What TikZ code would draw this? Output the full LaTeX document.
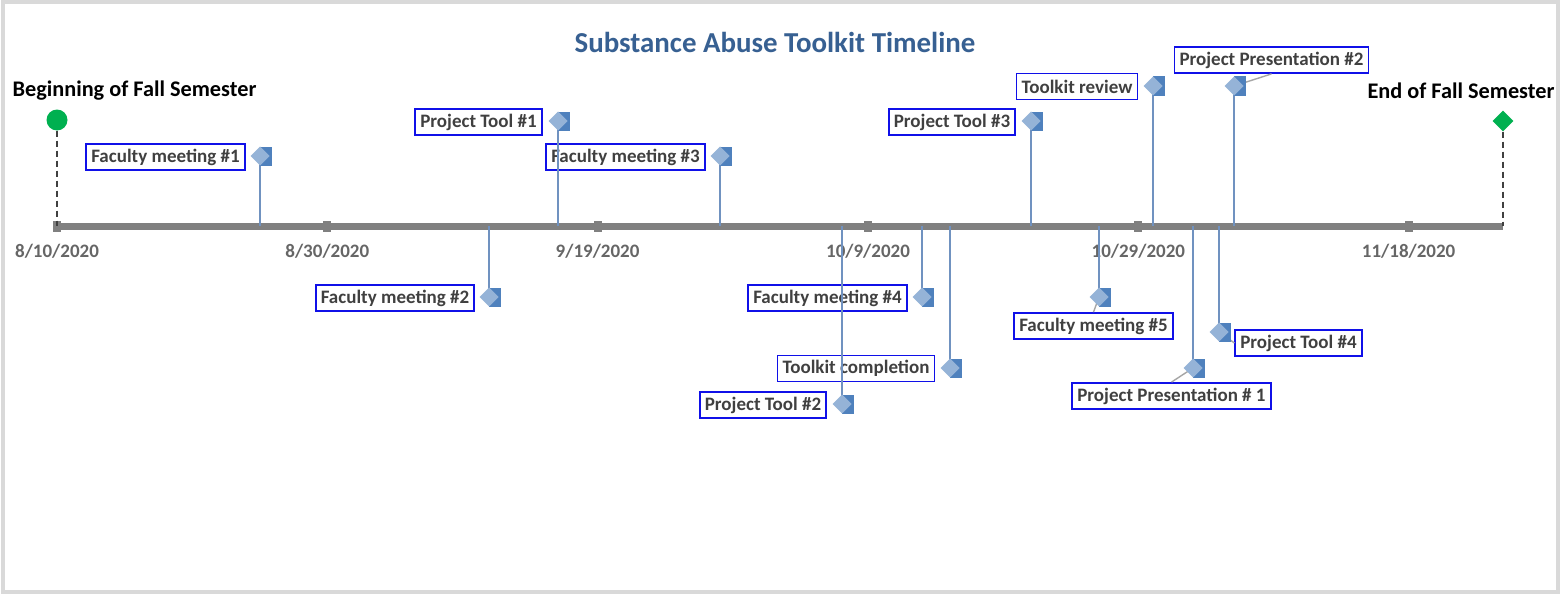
\documentclass[tikz,border=0pt]{standalone}
\usepackage{fontspec}
\setmainfont{Carlito}
\usetikzlibrary{calc,shapes.geometric}
\definecolor{lightb}{HTML}{95B3D7}
\definecolor{darkb}{HTML}{4F81BD}
\definecolor{stemc}{HTML}{7092C0}
\definecolor{boxb}{HTML}{1010E8}
\definecolor{txt}{HTML}{404040}
\definecolor{dtxt}{HTML}{666666}
\definecolor{axisg}{HTML}{808080}
\definecolor{conng}{HTML}{A6A6A6}
\definecolor{grn}{HTML}{00B050}
\definecolor{ttl}{HTML}{376092}
\definecolor{framec}{HTML}{D9D9D9}
\tikzset{
  evbox/.style={draw=boxb, line width=1.8pt, fill=white, text=txt, font=\fontsize{19}{21}\selectfont\bfseries, inner xsep=5pt, minimum height=26pt, anchor=center},
  datelbl/.style={text=dtxt, font=\fontsize{19}{21}\selectfont\bfseries},
  semlbl/.style={text=black, font=\fontsize{22.3}{25}\selectfont\bfseries},
  stemline/.style={draw=stemc, line width=1.4pt},
  connline/.style={draw=conng, line width=1.4pt},
  dashline/.style={draw=txt, line width=1.4pt, dash pattern=on 6pt off 4pt},
  tickmk/.style={fill=axisg, draw=none, minimum width=8pt, minimum height=11pt, inner sep=0pt},
  evmark/.pic={
    \fill[darkb] (0,-9.5) rectangle (12,9.5);
    \fill[lightb] (-9.5,0) -- (0,9.5) -- (9.5,0) -- (0,-9.5) -- cycle;
  }
}
\begin{document}
\begin{tikzpicture}[x=1pt,y=-1pt]
\useasboundingbox (0,0) rectangle (1561,594);
\fill[white] (0,0) rectangle (1561,594);
\draw[framec, line width=4pt] (3,2) rectangle (1558,592);

% title
\node[text=ttl, font=\fontsize{28.9}{32}\selectfont\bfseries] (title) at (775,42) {Substance Abuse Toolkit Timeline};

% axis
\coordinate (axs) at (57,226);
\coordinate (axe) at (1503,226);
\draw[axisg, line width=7pt] (axs) -- (axe);
\foreach \i/\x/\d in {0/57/8\slash 10\slash 2020, 1/327.3/8\slash 30\slash 2020, 2/597.6/9\slash 19\slash 2020, 3/868/10\slash 9\slash 2020, 4/1138.3/10\slash 29\slash 2020, 5/1408.6/11\slash 18\slash 2020}{
  \node[tickmk] (t\i) at (\x,226) {};
  \node[datelbl] (d\i) at (\x,251) {\d};
}

% start / end
\node[circle, fill=grn, minimum size=21pt, inner sep=0pt] (start) at (57,120) {};
\node[diamond, fill=grn, minimum size=21pt, inner sep=0pt, shape aspect=1] (endm) at (1503,121) {};
\draw[dashline] (start.south) -- (start |- axs);
\draw[dashline] (endm.south) -- (endm |- axe);
\node[semlbl, anchor=west] (beg) at (9,91) {Beginning of Fall Semester};
\node[semlbl, anchor=east] (endl) at (1558,91) {End of Fall Semester};

% event marker positions
\coordinate (m1) at (260,156);
\coordinate (m2) at (558,121);
\coordinate (m3) at (720,156);
\coordinate (m4) at (1031,121);
\coordinate (m5) at (1153,86);
\coordinate (m6) at (1234,86);
\coordinate (m7) at (489,297);
\coordinate (m8) at (922,297);
\coordinate (m9) at (950,368);
\coordinate (m10) at (842,404);
\coordinate (m11) at (1099,297);
\coordinate (m12) at (1219,332);
\coordinate (m13) at (1193,368);

% labels
\node[evbox] (l1) at (165.5,157) {Faculty meeting \#1};
\node[evbox] (l2) at (478.5,122) {Project Tool \#1};
\node[evbox] (l3) at (625.5,157) {Faculty meeting \#3};
\node[evbox] (l4) at (952,122) {Project Tool \#3};
\node[evbox] (l5) at (1077,86.5) {Toolkit review};
\node[evbox] (l6) at (1271.5,60) {Project Presentation \#2};
\node[evbox] (l7) at (395,298) {Faculty meeting \#2};
\node[evbox] (l8) at (827.5,298) {Faculty meeting \#4};
\node[evbox] (l9) at (856,368.5) {Toolkit completion};
\node[evbox] (l10) at (763,405) {Project Tool \#2};
\node[evbox] (l11) at (1093.5,326) {Faculty meeting \#5};
\node[evbox] (l12) at (1298.5,343) {Project Tool \#4};
\node[evbox] (l13) at (1171.5,396) {Project Presentation \# 1};

% connectors from markers to offset labels
\draw[connline] (m6) -- (l6.south);
\draw[connline] (m11) -- (l11.north);
\draw[connline] (m12) -- (l12.west);
\draw[connline] (m13) -- (l13.north);

% stems
\foreach \m in {1,...,13}{
  \draw[stemline] (m\m) -- (m\m |- axs);
}

% markers
\foreach \m in {1,...,13}{
  \pic at (m\m) {evmark};
}
\end{tikzpicture}
\end{document}
